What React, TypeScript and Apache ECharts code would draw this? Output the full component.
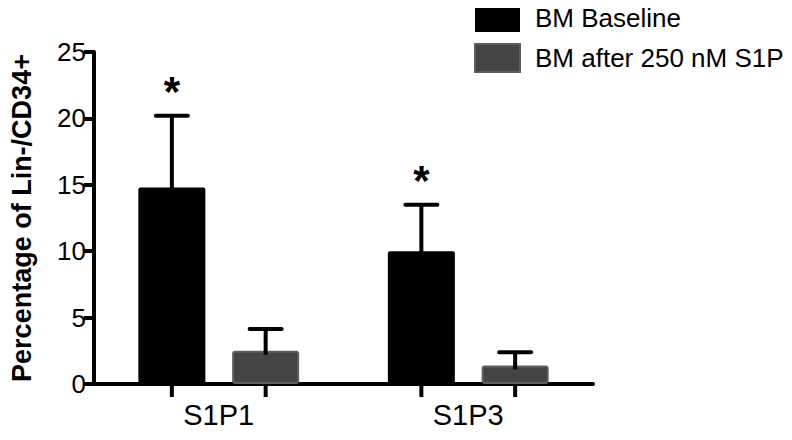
import React, { useEffect, useRef } from "react";
import * as echarts from "echarts";

const categories = ["S1P1", "S1P3"];
const seriesNames = ["BM Baseline", "BM after 250 nM S1P"];
const baselineMeans = [14.8, 10.0];
const baselineErrors = [5.4, 3.5];
const treatedMeans = [2.5, 1.4];
const treatedErrors = [1.65, 1.0];
const baselineMarks = ["*", "*"];
const treatedMarks = ["", ""];
const yMin = 0;
const yMax = 25;
const yInterval = 5;

const FONT = "'Liberation Sans', Arial, Helvetica, sans-serif";
const BAR_W = 67;
const GAP = 0.4;
const OFFSET = (BAR_W * (1 + GAP)) / 2;

function errorSeries(means: number[], errs: number[], marks: string[], offset: number) {
  return {
    type: "custom",
    coordinateSystem: "cartesian2d",
    clip: false,
    z: 5,
    silent: true,
    data: means.map((m, i) => [i, m, errs[i]]),
    renderItem: (params: any, api: any) => {
      const i = api.value(0);
      const m = api.value(1);
      const e = api.value(2);
      const base = api.coord([i, 0]);
      const x = base[0] + offset;
      const yM = api.coord([i, m])[1];
      const yT = api.coord([i, m + e])[1];
      const children: any[] = [
        { type: "line", shape: { x1: x, y1: yM + 4, x2: x, y2: yT }, style: { stroke: "#000", lineWidth: 4 } },
        { type: "line", shape: { x1: x - 16, y1: yT, x2: x + 16, y2: yT }, style: { stroke: "#000", lineWidth: 4, lineCap: "round" } },
        { type: "line", shape: { x1: x, y1: base[1], x2: x, y2: base[1] + 13 }, style: { stroke: "#000", lineWidth: 4 } },
      ];
      const mark = marks[params.dataIndex];
      if (mark) {
        children.push({
          type: "text",
          x,
          y: yT - 3,
          style: {
            text: mark,
            fontSize: 42,
            fontWeight: "bold",
            fontFamily: FONT,
            fill: "#000",
            align: "center",
            verticalAlign: "bottom",
          },
        });
      }
      return { type: "group", children };
    },
  };
}

export default function App() {
  const ref = useRef<HTMLDivElement>(null);
  useEffect(() => {
    if (!ref.current) return;
    const chart = echarts.init(ref.current, undefined, { renderer: "svg" });
    chart.setOption({
      animation: false,
      backgroundColor: "#fff",
      textStyle: { fontFamily: FONT },
      grid: { left: 94, right: 199, top: 52, bottom: 56, outerBoundsMode: "none", containLabel: false },
      legend: {
        data: seriesNames,
        orient: "vertical",
        left: 474,
        top: 4,
        padding: 0,
        itemWidth: 45,
        itemHeight: 28,
        itemGap: 11,
        icon: "rect",
        textStyle: { fontSize: 26, color: "#000", fontFamily: FONT, padding: [0, 0, 0, 10] },
      },
      xAxis: {
        type: "category",
        data: categories,
        axisLine: { lineStyle: { color: "#000", width: 4 } },
        axisTick: { show: false },
        axisLabel: { fontSize: 29, color: "#000", margin: 16, fontFamily: FONT },
        splitLine: { show: false },
      },
      yAxis: {
        type: "value",
        min: yMin,
        max: yMax,
        interval: yInterval,
        name: "Percentage of Lin-/CD34+",
        nameLocation: "middle",
        nameGap: 59,
        nameTextStyle: { fontSize: 27, fontWeight: "bold", color: "#000", fontFamily: FONT },
        axisLine: { show: true, lineStyle: { color: "#000", width: 4 } },
        axisTick: { show: true, length: 10, lineStyle: { color: "#000", width: 4 } },
        axisLabel: { fontSize: 26, color: "#000", margin: 8, fontFamily: FONT },
        splitLine: { show: false },
      },
      series: [
        {
          name: seriesNames[0],
          type: "bar",
          data: baselineMeans,
          barWidth: BAR_W,
          barGap: "40%",
          itemStyle: { color: "#000", borderRadius: 2 },
        },
        {
          name: seriesNames[1],
          type: "bar",
          data: treatedMeans,
          barWidth: BAR_W,
          barGap: "40%",
          itemStyle: { color: "#444", borderColor: "#5e5e5e", borderWidth: 2, borderRadius: 2 },
        },
        errorSeries(baselineMeans, baselineErrors, baselineMarks, -OFFSET),
        errorSeries(treatedMeans, treatedErrors, treatedMarks, OFFSET),
      ],
    });
    return () => chart.dispose();
  }, []);
  return <div ref={ref} style={{ width: 792, height: 440, margin: -8 }} />;
}
